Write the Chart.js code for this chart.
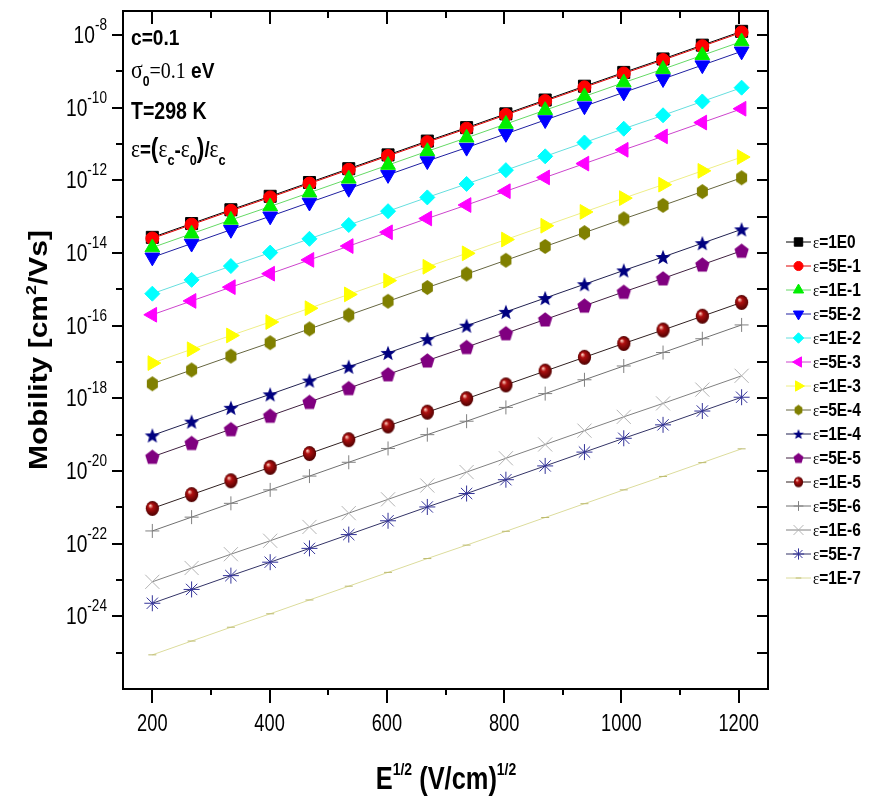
<!DOCTYPE html>
<html lang="en">
<head>
<meta charset="UTF-8">
<title>Mobility vs E^1/2</title>
<script src="https://cdn.jsdelivr.net/npm/chart.js"></script>
<style>
  body { margin: 0; background: #fff; }
  #wrap { width: 881px; height: 802px; }
</style>
</head>
<body>
<div id="wrap"><canvas id="mobChart"></canvas></div>
<script>
// E^1/2 in (V/cm)^1/2
const fieldRoot = [200, 267, 334, 401, 468, 535, 602, 669, 736, 803, 870, 937, 1004, 1071, 1138, 1205];

// log10 of the mobility [cm2/Vs]
const logMu_1E0  = [-13.57,-13.19,-12.81,-12.44,-12.06,-11.68,-11.30,-10.92,-10.55,-10.17,-9.79,-9.41,-9.03,-8.66,-8.28,-7.90];
const logMu_5E_1 = [-13.60,-13.22,-12.84,-12.47,-12.09,-11.71,-11.33,-10.95,-10.58,-10.20,-9.82,-9.44,-9.06,-8.69,-8.31,-7.93];
const logMu_1E_1 = [-13.85,-13.47,-13.09,-12.72,-12.34,-11.96,-11.58,-11.20,-10.83,-10.45,-10.07,-9.69,-9.31,-8.94,-8.56,-8.18];
const logMu_5E_2 = [-14.12,-13.74,-13.36,-12.99,-12.61,-12.23,-11.85,-11.47,-11.10,-10.72,-10.34,-9.96,-9.58,-9.21,-8.83,-8.45];
const logMu_1E_2 = [-15.12,-14.74,-14.36,-13.99,-13.61,-13.23,-12.85,-12.47,-12.10,-11.72,-11.34,-10.96,-10.58,-10.21,-9.83,-9.45];
const logMu_5E_3 = [-15.70,-15.32,-14.94,-14.57,-14.19,-13.81,-13.43,-13.05,-12.68,-12.30,-11.92,-11.54,-11.16,-10.79,-10.41,-10.03];
const logMu_1E_3 = [-17.03,-16.65,-16.27,-15.90,-15.52,-15.14,-14.76,-14.38,-14.01,-13.63,-13.25,-12.87,-12.49,-12.12,-11.74,-11.36];
const logMu_5E_4 = [-17.60,-17.22,-16.84,-16.47,-16.09,-15.71,-15.33,-14.95,-14.58,-14.20,-13.82,-13.44,-13.06,-12.69,-12.31,-11.93];
const logMu_1E_4 = [-19.02,-18.64,-18.26,-17.89,-17.51,-17.13,-16.75,-16.37,-16.00,-15.62,-15.24,-14.86,-14.48,-14.11,-13.73,-13.35];
const logMu_5E_5 = [-19.61,-19.23,-18.85,-18.48,-18.10,-17.72,-17.34,-16.96,-16.59,-16.21,-15.83,-15.45,-15.07,-14.70,-14.32,-13.94];
const logMu_1E_5 = [-21.03,-20.65,-20.27,-19.90,-19.52,-19.14,-18.76,-18.38,-18.01,-17.63,-17.25,-16.87,-16.49,-16.12,-15.74,-15.36];
const logMu_5E_6 = [-21.65,-21.27,-20.89,-20.52,-20.14,-19.76,-19.38,-19.00,-18.63,-18.25,-17.87,-17.49,-17.11,-16.74,-16.36,-15.98];
const logMu_1E_6 = [-23.05,-22.67,-22.29,-21.92,-21.54,-21.16,-20.78,-20.40,-20.03,-19.65,-19.27,-18.89,-18.51,-18.14,-17.76,-17.38];
const logMu_5E_7 = [-23.64,-23.26,-22.88,-22.51,-22.13,-21.75,-21.37,-20.99,-20.62,-20.24,-19.86,-19.48,-19.10,-18.73,-18.35,-17.97];
const logMu_1E_7 = [-25.06,-24.68,-24.30,-23.93,-23.55,-23.17,-22.79,-22.41,-22.04,-21.66,-21.28,-20.90,-20.52,-20.15,-19.77,-19.39];

const epsLabels = ['1E0', '5E-1', '1E-1', '5E-2', '1E-2', '5E-3', '1E-3', '5E-4', '1E-4', '5E-5', '1E-5', '5E-6', '1E-6', '5E-7', '1E-7'];
const seriesLogs = [logMu_1E0, logMu_5E_1, logMu_1E_1, logMu_5E_2, logMu_1E_2, logMu_5E_3, logMu_1E_3,
                    logMu_5E_4, logMu_1E_4, logMu_5E_5, logMu_1E_5, logMu_5E_6, logMu_1E_6, logMu_5E_7, logMu_1E_7];

const xMajorTicks = [200, 400, 600, 800, 1000, 1200];
const xMinorTicks = [300, 500, 700, 900, 1100];
const yLabelExps = [-8, -10, -12, -14, -16, -18, -20, -22, -24];
const yMinorExps = [-9, -11, -13, -15, -17, -19, -21, -23, -25];

// custom marker shapes that Chart.js does not have
function makeMarker(kind, size, color) {
  const c = document.createElement('canvas');
  c.width = c.height = Math.ceil(size) + 2;
  const g = c.getContext('2d');
  const m = c.width / 2, r = size / 2;
  g.beginPath();
  if (kind === 'hexagon') {
    for (let k = 0; k < 6; k++) {
      const a = -Math.PI / 2 + k * Math.PI / 3;
      g.lineTo(m + r * 0.85 * Math.cos(a), m + r * Math.sin(a));
    }
  } else if (kind === 'pentagon') {
    for (let k = 0; k < 5; k++) {
      const a = -Math.PI / 2 + k * 2 * Math.PI / 5;
      g.lineTo(m + r * Math.cos(a), m + r * 1.05 * Math.sin(a) + r * 0.08);
    }
  } else if (kind === 'star') {
    for (let k = 0; k < 10; k++) {
      const a = -Math.PI / 2 + k * Math.PI / 5;
      const rr = k % 2 ? r * 0.42 : r;
      g.lineTo(m + rr * Math.cos(a), m + rr * Math.sin(a) + r * 0.1);
    }
  } else if (kind === 'ball') {
    g.ellipse(m, m, r * 0.88, r, 0, 0, Math.PI * 2);
    const grd = g.createRadialGradient(m - r * 0.3, m - r * 0.4, r * 0.05, m, m, r);
    grd.addColorStop(0, '#ffd0c0');
    grd.addColorStop(0.3, '#b01010');
    grd.addColorStop(1, '#4a0000');
    g.closePath();
    g.fillStyle = grd;
    g.fill();
    return c;
  }
  g.closePath();
  g.fillStyle = color;
  g.fill();
  return c;
}

const seriesStyle = [
  { pt: 'rect',     r: 8.5, color: '#000000', line: '#000000' },
  { pt: 'circle',   r: 6.5, color: '#ff0000', line: '#e00000' },
  { pt: 'triangle', r: 8.5, color: '#00ee00', line: '#66d966' },
  { pt: 'triangle', r: 8.5, rot: 180, color: '#0000ff', line: '#2020a0' },
  { pt: 'rectRot',  r: 7.5, color: '#00ffff', line: '#66dede' },
  { pt: 'triangle', r: 8.5, rot: -90, color: '#ff00ff', line: '#cc44cc' },
  { pt: 'triangle', r: 8.5, rot: 90, color: '#ffff00', line: '#eeee88' },
  { pt: 'hexagon',  r: 15, color: '#808000', line: '#666640' },
  { pt: 'star',     r: 16, color: '#000080', line: '#202050' },
  { pt: 'pentagon', r: 15, color: '#800080', line: '#402040' },
  { pt: 'ball',     r: 15, color: '#800000', line: '#302020' },
  { pt: 'cross',    r: 7,  color: '#808080', line: '#707070' },
  { pt: 'crossRot', r: 10, color: '#b4b4b4', line: '#808080' },
  { pt: 'star',     r: 8,  color: '#333399', line: '#333366', asterisk: true },
  { pt: 'line',     r: 4,  color: '#bdbb70', line: '#dcdc9c' }
];
const customKinds = ['hexagon', 'pentagon', 'ball'];
const legendScale = 0.7;
seriesStyle.forEach(s => {
  const custom = customKinds.includes(s.pt) || (s.pt === 'star' && !s.asterisk);
  if (custom) {
    s.big = makeMarker(s.pt, s.r, s.color);
    s.small = makeMarker(s.pt, s.r * legendScale, s.color);
  }
});

const datasets = seriesLogs.map((logs, i) => {
  const s = seriesStyle[i];
  return {
    label: '\u03b5=' + epsLabels[i],
    data: fieldRoot.map((x, k) => ({ x: x, y: Math.pow(10, logs[k]) })),
    borderColor: s.line,
    borderWidth: 1,
    pointStyle: s.big || s.pt,
    pointRadius: s.big ? 8 : s.r,
    pointRotation: s.rot || 0,
    pointBackgroundColor: s.color,
    pointBorderColor: s.color,
    pointBorderWidth: 1,
    tension: 0,
    fill: false,
    order: seriesLogs.length - i
  };
});

// text with sub/superscripts, squeezed horizontally like the original
function drawRich(ctx, x, y, parts, align, sx) {
  ctx.save();
  ctx.translate(x, y);
  ctx.scale(sx, 1);
  let w = 0;
  parts.forEach(p => { ctx.font = p.f; p.w = ctx.measureText(p.t).width; w += p.w; });
  let cx = align === 'right' ? -w : (align === 'center' ? -w / 2 : 0);
  ctx.textBaseline = 'alphabetic';
  ctx.textAlign = 'left';
  ctx.fillStyle = '#000';
  parts.forEach(p => { ctx.font = p.f; ctx.fillText(p.t, cx, p.dy || 0); cx += p.w; });
  ctx.restore();
}

const SANS = 'Liberation Sans, Arial, sans-serif';
const SERIF = 'Liberation Serif, Times New Roman, serif';

const framePlugin = {
  id: 'frame',
  afterDraw(chart) {
    const ctx = chart.ctx;
    const a = chart.chartArea;
    const xs = chart.scales.x, ys = chart.scales.y;
    ctx.save();
    ctx.strokeStyle = '#000';
    ctx.lineWidth = 2;
    ctx.strokeRect(a.left, a.top, a.right - a.left, a.bottom - a.top);

    ctx.beginPath();
    xMajorTicks.forEach(v => {
      const px = Math.round(xs.getPixelForValue(v));
      ctx.moveTo(px, a.bottom); ctx.lineTo(px, a.bottom + 14);
      ctx.moveTo(px, a.top); ctx.lineTo(px, a.top + 13);
    });
    xMinorTicks.forEach(v => {
      const px = Math.round(xs.getPixelForValue(v));
      ctx.moveTo(px, a.bottom); ctx.lineTo(px, a.bottom + 6);
      ctx.moveTo(px, a.top); ctx.lineTo(px, a.top + 7);
    });
    yLabelExps.forEach(e => {
      const py = Math.round(ys.getPixelForValue(Math.pow(10, e)));
      ctx.moveTo(a.left - 11, py); ctx.lineTo(a.left, py);
      ctx.moveTo(a.right - 11, py); ctx.lineTo(a.right, py);
    });
    yMinorExps.forEach(e => {
      const py = Math.round(ys.getPixelForValue(Math.pow(10, e)));
      ctx.moveTo(a.left - 7, py); ctx.lineTo(a.left, py);
      ctx.moveTo(a.right - 11, py); ctx.lineTo(a.right, py);
    });
    ctx.stroke();

    // tick labels
    xMajorTicks.forEach(v => {
      drawRich(ctx, xs.getPixelForValue(v), 731, [{ t: String(v), f: '24px ' + SANS }], 'center', 0.76);
    });
    yLabelExps.forEach(e => {
      const py = ys.getPixelForValue(Math.pow(10, e));
      drawRich(ctx, 107, py + 8, [
        { t: '10', f: '24px ' + SANS },
        { t: String(e), f: '17px ' + SANS, dy: -13 }
      ], 'right', 0.8);
    });

    // axis titles
    drawRich(ctx, 446, 789, [
      { t: 'E', f: 'bold 31px ' + SANS },
      { t: '1/2', f: 'bold 17px ' + SANS, dy: -14 },
      { t: ' (V/cm)', f: 'bold 31px ' + SANS },
      { t: '1/2', f: 'bold 17px ' + SANS, dy: -14 }
    ], 'center', 0.82);

    ctx.save();
    ctx.translate(47, (a.top + a.bottom) / 2);
    ctx.rotate(-Math.PI / 2);
    ctx.scale(1, 0.85);
    drawRich(ctx, 0, 0, [
      { t: 'Mobility [cm', f: 'bold 30px ' + SANS },
      { t: '2', f: 'bold 18px ' + SANS, dy: -13 },
      { t: '/Vs]', f: 'bold 30px ' + SANS }
    ], 'center', 1);
    ctx.restore();

    // annotation
    drawRich(ctx, 131, 45, [{ t: 'c=0.1', f: 'bold 22px ' + SANS }], 'left', 0.87);
    drawRich(ctx, 131, 78, [
      { t: '\u03c3', f: '25px ' + SERIF },
      { t: '0', f: 'bold 14px ' + SANS, dy: 8 },
      { t: '=0.1', f: '23px ' + SERIF },
      { t: ' eV', f: 'bold 22px ' + SANS }
    ], 'left', 0.87);
    drawRich(ctx, 131, 119, [{ t: 'T=298 K', f: 'bold 23px ' + SANS }], 'left', 0.85);
    const sub = 'bold 15px ' + SANS;
    drawRich(ctx, 131, 157, [
      { t: '\u03b5', f: '25px ' + SERIF },
      { t: '=', f: 'bold 22px ' + SANS },
      { t: '(', f: 'bold 27px ' + SANS },
      { t: '\u03b5', f: '25px ' + SERIF },
      { t: 'c', f: sub, dy: 8 },
      { t: '-', f: 'bold 22px ' + SANS },
      { t: '\u03b5', f: '25px ' + SERIF },
      { t: '0', f: sub, dy: 8 },
      { t: ')', f: 'bold 27px ' + SANS },
      { t: '/', f: 'bold 22px ' + SANS },
      { t: '\u03b5', f: '25px ' + SERIF },
      { t: 'c', f: sub, dy: 8 }
    ], 'left', 0.85);

    // legend: line - marker - line, then label
    datasets.forEach((ds, i) => {
      const s = seriesStyle[i];
      const ly = 242 + i * 24;
      ctx.strokeStyle = s.line;
      ctx.lineWidth = 1;
      ctx.beginPath();
      ctx.moveTo(786, ly); ctx.lineTo(811, ly);
      ctx.stroke();
      ctx.fillStyle = s.color;
      ctx.strokeStyle = s.color;
      Chart.helpers.drawPoint(ctx, {
        pointStyle: s.small || s.pt,
        rotation: s.rot || 0,
        radius: s.r * legendScale,
        borderWidth: 1
      }, 798.5, ly);
      drawRich(ctx, 813, ly + 6, [
        { t: '\u03b5', f: '17px ' + SERIF },
        { t: '=' + epsLabels[i], f: 'bold 18px ' + SANS }
      ], 'left', 0.86);
    });
    ctx.restore();
  }
};

new Chart(document.getElementById('mobChart'), {
  type: 'line',
  data: { datasets: datasets },
  options: {
    animation: false,
    responsive: true,
    maintainAspectRatio: false,
    devicePixelRatio: 1,
    layout: { padding: { left: 0, top: 10, right: 113, bottom: 0 } },
    plugins: { legend: { display: false }, tooltip: { enabled: false } },
    scales: {
      x: {
        type: 'linear', min: 150, max: 1250,
        grid: { display: false }, border: { display: false },
        ticks: { display: false },
        afterFit: s => { s.height = 113; }
      },
      y: {
        type: 'logarithmic', min: 1e-26, max: Math.pow(10, -7.34),
        grid: { display: false }, border: { display: false },
        ticks: { display: false },
        afterFit: s => { s.width = 123; }
      }
    }
  },
  plugins: [framePlugin]
});
</script>
</body>
</html>
